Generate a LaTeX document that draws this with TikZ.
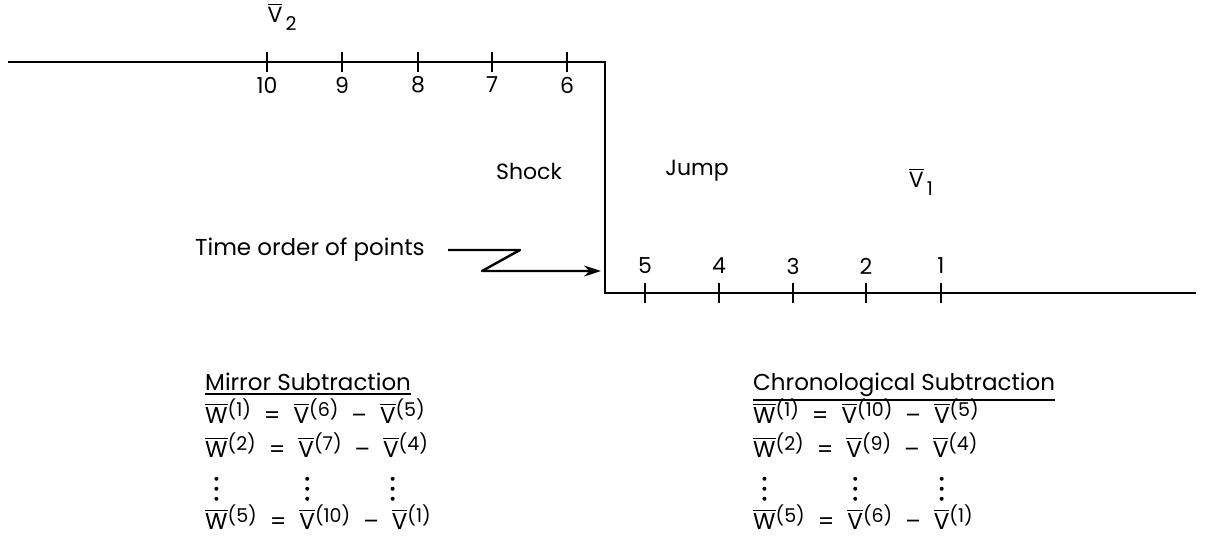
\documentclass[tikz,border=0pt]{standalone}
\usepackage{fontspec}
\setmainfont{Poppins}
\usetikzlibrary{arrows.meta}
\newcommand\ovl[1]{\leavevmode\vbox{\hrule height 1.4pt\kern1.8pt\hbox{#1}}}
\newcommand\ul[1]{\leavevmode\vtop{\hbox{#1}\kern3pt\hrule height 1.6pt}}
\newcommand\sups[1]{\raisebox{7pt}{\fontsize{19}{19}\selectfont(#1)}}
\newcommand\gap{\hspace{13pt}}
\newcommand\dotc{\tikz\fill[black] (0,0) circle (2pt);}
\newcommand\vd[2][0pt]{\leavevmode\setbox0\hbox{#2}\rlap{\hbox to\wd0{\hss\kern#1\raisebox{\dimexpr\ht0+9pt\relax}{\vbox{\offinterlineskip\hbox{\dotc}\kern6pt\hbox{\dotc}\kern6pt\hbox{\dotc}}}\hss}}\box0}
\tikzset{
  lbl/.style={inner sep=0pt, font=\fontsize{22}{24}\selectfont},
  eq/.style={inner sep=0pt, anchor=base west, font=\fontsize{23}{26}\selectfont},
  axis/.style={line width=2pt},
  tick/.style={line width=2pt},
}
\begin{document}
\begin{tikzpicture}[x=1pt,y=-1pt]
\useasboundingbox (0,0) rectangle (1210,544);
% axis
\coordinate (tl) at (8,62);
\coordinate (tr) at (605,62);
\coordinate (br) at (605,293);
\coordinate (be) at (1196,293);
\draw[axis] (tl) -- (tr) -- (br) -- (be);
% top ticks and labels
\foreach \x/\n in {267/10,342/9,418/8,492/7,567/6}{
  \draw[tick] (\x,52) -- (\x,72);
  \node[lbl] (t\n) at (\x,85) {\n};
}
% bottom ticks and labels
\foreach \x/\n in {645/5,719/4,793/3,866/2,941/1}{
  \draw[tick] (\x,283) -- (\x,303);
  \node[lbl] (b\n) at (\x,266) {\n};
}
\node[lbl] (v2) at (282,17) {\ovl{V}\raisebox{-8pt}{\fontsize{19}{19}\selectfont\,2}};
\node[lbl] (v1) at (921,182) {\ovl{V}\raisebox{-8pt}{\fontsize{19}{19}\selectfont\,1}};
\node[lbl] (shock) at (529,171) {Shock};
\node[lbl] (jump) at (697,171) {Jump};
\node[lbl, anchor=west, font=\fontsize{23}{26}\selectfont] (time) at (195,250) {Time order of points};
% arrow
\coordinate (a0) at (448,250);
\coordinate (a1) at (520,250);
\coordinate (a2) at (482,271);
\coordinate (a3) at (601,271);
\draw[line width=2.4pt, line join=round, -{Stealth[length=17pt,width=11pt]}] (a0) -- (a1) -- (a2) -- (a3);
% Mirror column
\node[eq] (mt) at (205,390) {\ul{Mirror Subtraction}};
\node[eq] (m1) at (205,423) {\ovl{W}\sups{1}\gap=\gap\ovl{V}\sups{6}\gap--\gap\ovl{V}\sups{5}};
\node[eq] (m2) at (205,457) {\ovl{W}\sups{2}\gap=\gap\ovl{V}\sups{7}\gap--\gap\ovl{V}\sups{4}};
\node[eq] (m5) at (205,529) {\vd{\ovl{W}}\sups{5}\gap=\gap\vd{\ovl{V}}\sups{10}\gap--\gap\vd[-14pt]{\ovl{V}}\sups{1}};
% Chronological column
\node[eq] (ct) at (753,390) {\ul{Chronological Subtraction}};
\node[eq] (c1) at (753,423) {\ovl{W}\sups{1}\gap=\gap\ovl{V}\sups{10}\gap--\gap\ovl{V}\sups{5}};
\node[eq] (c2) at (753,457) {\ovl{W}\sups{2}\gap=\gap\ovl{V}\sups{9}\gap--\gap\ovl{V}\sups{4}};
\node[eq] (c5) at (753,529) {\vd{\ovl{W}}\sups{5}\gap=\gap\vd{\ovl{V}}\sups{6}\gap--\gap\vd{\ovl{V}}\sups{1}};
\end{tikzpicture}
\end{document}
